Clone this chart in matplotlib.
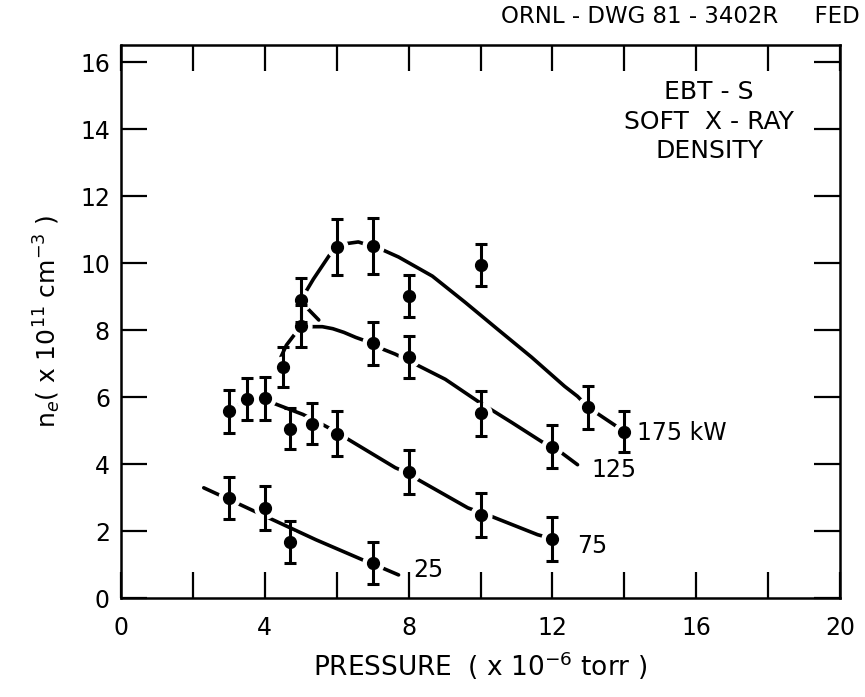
import matplotlib
matplotlib.use("Agg")
import matplotlib.pyplot as plt
from matplotlib.ticker import FixedLocator

# ---- data points (pressure x1e-6 torr, density x1e11 cm^-3) ----
p175 = [5.0, 6.0, 7.0, 8.0, 10.0, 13.0, 14.0]
n175 = [8.89, 10.48, 10.51, 9.01, 9.94, 5.69, 4.97]
e175 = [0.65, 0.83, 0.83, 0.63, 0.63, 0.65, 0.62]

p125 = [4.5, 5.0, 7.0, 8.0, 10.0, 12.0]
n125 = [6.89, 8.11, 7.60, 7.19, 5.51, 4.52]
e125 = [0.60, 0.63, 0.63, 0.63, 0.66, 0.65]

p75 = [3.0, 3.5, 4.0, 4.7, 5.3, 6.0, 8.0, 10.0, 12.0]
n75 = [5.57, 5.93, 5.96, 5.06, 5.21, 4.91, 3.77, 2.49, 1.77]
e75 = [0.63, 0.63, 0.65, 0.62, 0.62, 0.66, 0.66, 0.66, 0.65]

p25 = [3.0, 4.0, 4.7, 7.0]
n25 = [2.99, 2.69, 1.68, 1.05]
e25 = [0.62, 0.65, 0.62, 0.63]

# ---- hand-drawn fit curves ----
c175x = [5.0, 5.35, 5.8, 6.2, 6.6, 7.22, 7.72, 8.66, 9.57, 10.48, 11.42, 12.34, 12.7, 13.0, 14.0]
c175y = [8.89, 9.52, 10.24, 10.57, 10.63, 10.42, 10.18, 9.61, 8.83, 8.02, 7.19, 6.32, 6.02, 5.69, 4.97]
c175bx = [5.0, 5.5]
c175by = [8.85, 8.3]

c125x = [4.45, 4.6, 4.87, 5.0, 5.23, 5.6, 5.89, 6.2, 6.53, 7.0, 7.28, 7.63, 8.19, 9.02, 9.93, 10.87, 11.7, 12.25, 12.7]
c125y = [7.2, 7.55, 7.93, 8.08, 8.1, 8.1, 8.04, 7.93, 7.78, 7.6, 7.43, 7.28, 6.98, 6.53, 5.87, 5.24, 4.67, 4.34, 3.98]

c75x = [3.0, 3.5, 4.0, 4.18, 5.06, 5.5, 6.0, 6.33, 7.63, 8.0, 8.27, 9.65, 10.32, 11.59, 12.0]
c75y = [5.57, 5.93, 5.96, 5.84, 5.48, 5.24, 4.95, 4.73, 3.89, 3.72, 3.53, 2.69, 2.43, 1.89, 1.77]

c25x = [2.3, 3.21, 5.42, 6.72, 7.0, 7.72]
c25y = [3.29, 2.84, 1.74, 1.14, 1.02, 0.69]

labels = ["175 kW", "125", "75", "25"]
label_pos = [(14.36, 4.94), (13.08, 3.83), (12.7, 1.56), (8.13, 0.84)]

xticks_major = [0, 4, 8, 12, 16, 20]
xticks_minor = [2, 6, 10, 14, 18]
yticks = [0, 2, 4, 6, 8, 10, 12, 14, 16]

plt.rcParams['font.family'] = ['DejaVu Sans']

fig = plt.figure(figsize=(8.65, 6.97), dpi=100)
ax = fig.add_axes([0.140, 0.142, 0.831, 0.793])
ax.set_xlim(0, 20)
ax.set_ylim(0, 16.5)

lw = 2.6
for cx, cy in [(c175x, c175y), (c175bx, c175by), (c125x, c125y), (c75x, c75y), (c25x, c25y)]:
    ax.plot(cx, cy, color='black', lw=lw, solid_capstyle='round',
            solid_joinstyle='round', zorder=2)

allp = p175 + p125 + p75 + p25
alln = n175 + n125 + n75 + n25
# white halos to create gaps in the curves near the points
ax.plot(allp, alln, 'o', color='white', ms=15, mec='white', zorder=3)

for p, n, e in [(p175, n175, e175), (p125, n125, e125), (p75, n75, e75), (p25, n25, e25)]:
    ax.errorbar(p, n, yerr=e, fmt='o', color='black', ms=8.5, elinewidth=2.2,
                capsize=4.5, capthick=2.2, zorder=4)

for t, (x, y) in zip(labels, label_pos):
    ax.text(x, y, t, fontsize=17, va='center', ha='left')

ax.text(0.818, 0.862, "EBT - S\nSOFT  X - RAY\nDENSITY", transform=ax.transAxes,
        ha='center', va='center', fontsize=18, linespacing=1.3)

fig.text(0.994, 0.977, "ORNL - DWG 81 - 3402R     FED", ha='right', va='center', fontsize=16.5)

ax.xaxis.set_major_locator(FixedLocator(xticks_major))
ax.xaxis.set_minor_locator(FixedLocator(xticks_minor))
ax.yaxis.set_major_locator(FixedLocator(yticks))
ax.tick_params(which='both', direction='in', length=19, width=1.6, top=True, right=True,
               labelsize=17, pad=8)
ax.tick_params(axis='x', pad=13)
for s in ax.spines.values():
    s.set_linewidth(1.8)

ax.set_xlabel(r"PRESSURE  ( x 10$^{-6}$ torr )", fontsize=19, labelpad=7)
ax.set_ylabel(r"n$_e$( x 10$^{11}$ cm$^{-3}$ )", fontsize=18, labelpad=12)

fig.savefig("out.png", dpi=100)
